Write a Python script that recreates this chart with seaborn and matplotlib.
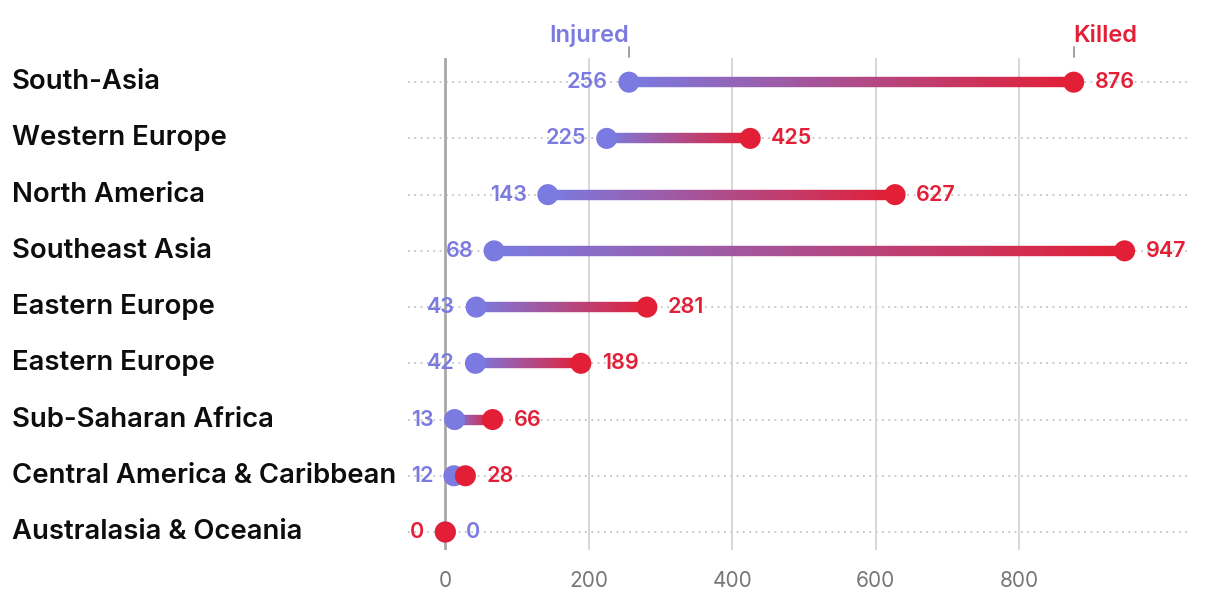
import numpy as np
import pandas as pd
import matplotlib
matplotlib.use("Agg")
import matplotlib.pyplot as plt
import matplotlib.transforms as mtransforms
from matplotlib.collections import LineCollection
from matplotlib.colors import to_rgb
import seaborn as sns

regions = ["South-Asia", "Western Europe", "North America", "Southeast Asia",
           "Eastern Europe", "Eastern Europe", "Sub-Saharan Africa",
           "Central America & Caribbean", "Australasia & Oceania"]
injured = [256, 225, 143, 68, 43, 42, 13, 12, 0]
killed = [876, 425, 627, 947, 281, 189, 66, 28, 0]
xticks = [0, 200, 400, 600, 800]

BLUE = "#7a7ae0"
RED = "#e21f36"

sns.set_theme(style="white")
plt.rcParams["font.family"] = ["Inter", "DejaVu Sans"]

df = pd.DataFrame({"region": regions, "injured": injured, "killed": killed})
df["row"] = np.arange(len(df))

fig = plt.figure(figsize=(12.2, 5.96), dpi=100)
ax = fig.add_axes([408 / 1220, 1 - 550 / 596, (1187 - 408) / 1220, (550 - 58) / 596])
ax.set_xlim(-52, 1034)
ax.set_ylim(8.32, -0.43)

# grid lines
for xv in xticks:
    if xv == 0:
        ax.axvline(xv, color="#a8a8a8", lw=2.0, zorder=1)
    else:
        ax.axvline(xv, color="#d4d4d4", lw=1.3, zorder=1)
for r in df["row"]:
    ax.axhline(r, color="#c4c4c4", lw=1.3, ls=(0, (1, 2.5)), zorder=0.5)

# gradient connectors
c1 = np.array(to_rgb(BLUE))
c2 = np.array(to_rgb(RED))
for _, d in df.iterrows():
    a, b, r = d["injured"], d["killed"], d["row"]
    if a == b:
        continue
    n = 80
    xs = np.linspace(a, b, n + 1)
    segs = [[(xs[i], r), (xs[i + 1], r)] for i in range(n)]
    t = np.linspace(0, 1, n)[:, None]
    cols = c1 * (1 - t) + c2 * t
    lc = LineCollection(segs, colors=cols, linewidths=7.5, capstyle="butt", zorder=2)
    ax.add_collection(lc)

sns.scatterplot(data=df, x="injured", y="row", color=BLUE, s=230, edgecolor="none",
                ax=ax, zorder=3, legend=False)
sns.scatterplot(data=df, x="killed", y="row", color=RED, s=230, edgecolor="none",
                ax=ax, zorder=4, legend=False)

fs_val = 15.5
for _, d in df.iterrows():
    a, b, r = d["injured"], d["killed"], d["row"]
    off = 15
    if a == b:
        ax.annotate(str(b), (b, r), xytext=(-off, 0), textcoords="offset points",
                    ha="right", va="center", color=RED, fontsize=fs_val, fontweight="semibold")
        ax.annotate(str(a), (a, r), xytext=(off, 0), textcoords="offset points",
                    ha="left", va="center", color=BLUE, fontsize=fs_val, fontweight="semibold")
    else:
        ax.annotate(str(a), (a, r), xytext=(-off, 0), textcoords="offset points",
                    ha="right", va="center", color=BLUE, fontsize=fs_val, fontweight="semibold")
        ax.annotate(str(b), (b, r), xytext=(off, 0), textcoords="offset points",
                    ha="left", va="center", color=RED, fontsize=fs_val, fontweight="semibold")

# category labels
trans = mtransforms.blended_transform_factory(fig.transFigure, ax.transData)
for _, d in df.iterrows():
    ax.text(12 / 1220, d["row"], d["region"], transform=trans, ha="left", va="center",
            fontsize=19.8, fontweight="semibold", color="#0d0d0d")

# legend labels above first row
top = df.iloc[0]
ax.plot([top["injured"]] * 2, [-0.45, -0.63], color="#999999", lw=1.3, clip_on=False)
ax.plot([top["killed"]] * 2, [-0.45, -0.63], color="#999999", lw=1.3, clip_on=False)
ax.text(top["injured"], -0.83, "Injured", ha="right", va="center", color=BLUE,
        fontsize=17, fontweight="semibold")
ax.text(top["killed"], -0.83, "Killed", ha="left", va="center", color=RED,
        fontsize=17, fontweight="semibold")

ax.set_xticks(xticks)
ax.set_xticklabels([str(v) for v in xticks], color="#777777", fontsize=15)
ax.tick_params(axis="x", length=0, pad=15)
ax.set_yticks([])
ax.set_xlabel("")
ax.set_ylabel("")
for s in ax.spines.values():
    s.set_visible(False)

fig.savefig("out.png", dpi=100)
